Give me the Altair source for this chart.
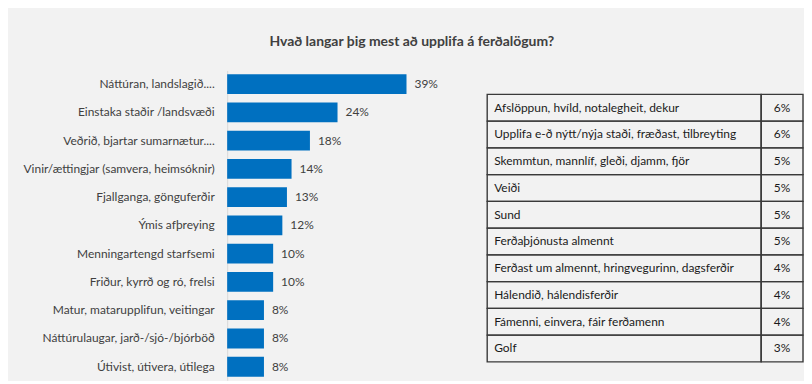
import altair as alt
import pandas as pd

title_text = "Hvað langar þig mest að upplifa á ferðalögum?"

bar_categories = [
    "Náttúran, landslagið....",
    "Einstaka staðir /landsvæði",
    "Veðrið, bjartar sumarnætur....",
    "Vinir/ættingjar (samvera, heimsóknir)",
    "Fjallganga, gönguferðir",
    "Ýmis afþreying",
    "Menningartengd starfsemi",
    "Friður, kyrrð og ró, frelsi",
    "Matur, matarupplifun, veitingar",
    "Náttúrulaugar, jarð-/sjó-/bjórböð",
    "Útivist, útivera, útilega",
]
bar_values = [39, 24, 18, 14, 13, 12, 10, 10, 8, 8, 8]

table_labels = [
    "Afslöppun, hvíld, notalegheit, dekur",
    "Upplifa e-ð nýtt/nýja staði, fræðast, tilbreyting",
    "Skemmtun, mannlíf, gleði, djamm, fjör",
    "Veiði",
    "Sund",
    "Ferðaþjónusta almennt",
    "Ferðast um almennt, hringvegurinn, dagsferðir",
    "Hálendið, hálendisferðir",
    "Fámenni, einvera, fáir ferðamenn",
    "Golf",
]
table_values = [6, 6, 5, 5, 5, 5, 4, 4, 4, 3]

FONT = "Lato"
TXT = "#404040"
BLUE = "#0070C0"

bars_df = pd.DataFrame({"cat": bar_categories, "val": bar_values})
bars_df["lbl"] = [f"{v}%" for v in bar_values]

table_df = pd.DataFrame({"row": list(range(len(table_labels))), "label": table_labels, "val": table_values})
table_df["lbl"] = [f"{v}%" for v in table_values]

H = 311
y_enc = alt.Y(
    "cat:N",
    sort=bar_categories,
    scale=alt.Scale(paddingInner=0.293, paddingOuter=0.13),
    axis=alt.Axis(
        title=None, ticks=False, labelFont=FONT, labelFontSize=12, labelColor=TXT,
        labelPadding=13, labelLimit=400, domainColor="#d9d9d9", minExtent=220, maxExtent=220,
        grid=False,
    ),
)
x_enc = alt.X("val:Q", scale=alt.Scale(domain=[0, 52]), axis=None)

base = alt.Chart(bars_df).encode(y=y_enc, x=x_enc)
bars = base.mark_bar(color=BLUE)
bar_text = base.mark_text(align="left", dx=8, font=FONT, fontSize=12, color=TXT).encode(text="lbl:N")
bar_chart = (bars + bar_text).properties(width=240, height=H)

ROW_PX = 26.85
top_rows = 24 / ROW_PX
span = H / ROW_PX
yscale = alt.Scale(domain=[-top_rows, span - top_rows], reverse=True, nice=False, zero=False)

tbase = alt.Chart(table_df).transform_calculate(r1="datum.row + 1", rm="datum.row + 0.5")
cell_l = tbase.mark_rect(fill="transparent", stroke="#3a3a3a", strokeWidth=1.4).encode(
    x=alt.value(0), x2=alt.value(275),
    y=alt.Y("row:Q", scale=yscale, axis=None), y2="r1:Q",
)
cell_r = tbase.mark_rect(fill="transparent", stroke="#3a3a3a", strokeWidth=1.4).encode(
    x=alt.value(275), x2=alt.value(317),
    y=alt.Y("row:Q", scale=yscale, axis=None), y2="r1:Q",
)
t_lab = tbase.mark_text(align="left", baseline="middle", font=FONT, fontSize=12, color="#1a1a1a").encode(
    x=alt.value(7), y=alt.Y("rm:Q", scale=yscale, axis=None), text="label:N",
)
t_val = tbase.mark_text(align="center", baseline="middle", font=FONT, fontSize=12, color="#1a1a1a").encode(
    x=alt.value(296), y=alt.Y("rm:Q", scale=yscale, axis=None), text="lbl:N",
)
table_chart = alt.layer(cell_l, cell_r, t_lab, t_val).properties(width=317, height=H)

chart = (
    alt.hconcat(bar_chart, table_chart, spacing=20)
    .properties(
        title=alt.TitleParams(
            title_text, anchor="middle", font=FONT, fontSize=14, fontWeight="bold",
            color=TXT, offset=22, dx=6,
        ),
        padding={"left": 0, "top": 26, "right": 0, "bottom": 0},
        background="#f2f2f2",
    )
    .configure_view(stroke=None)
)

chart.save("out.html", embed_options={"renderer": "svg", "actions": False})
